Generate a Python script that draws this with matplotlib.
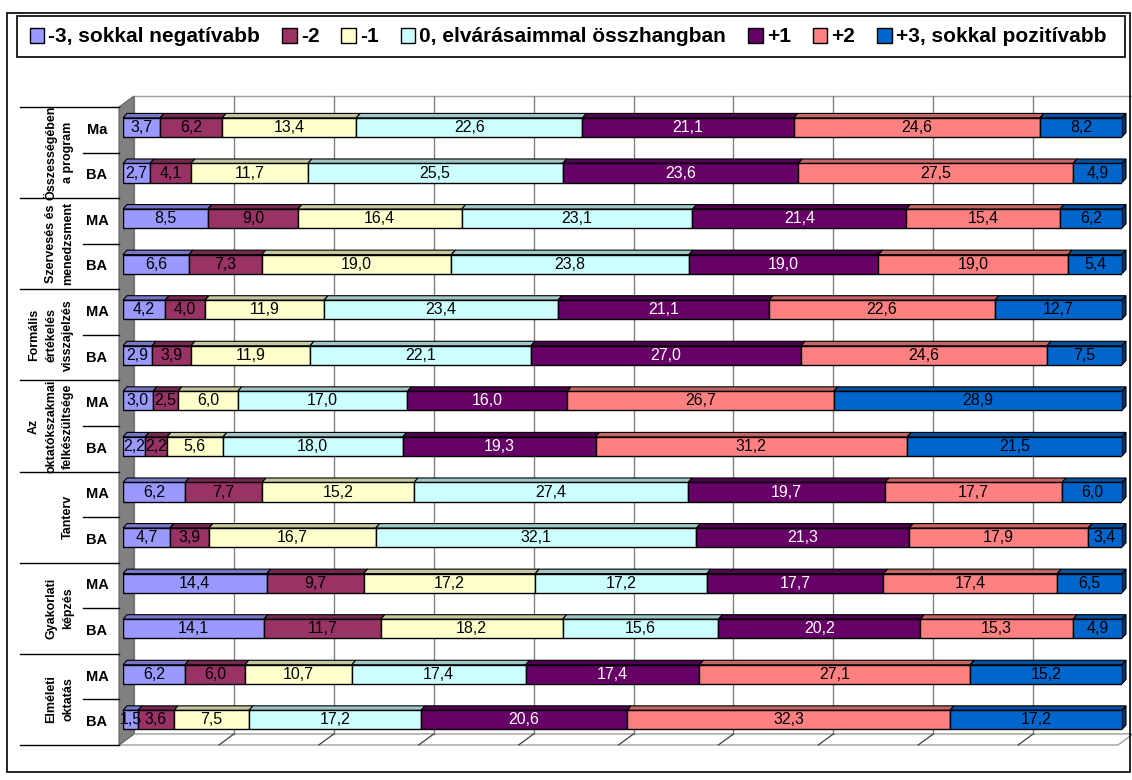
import numpy as np
import matplotlib.pyplot as plt
from matplotlib.patches import Rectangle, Polygon, Patch
from matplotlib.lines import Line2D
import matplotlib.transforms as mtransforms

plt.rcParams['font.family'] = ['Liberation Sans', 'DejaVu Sans']

# adatok
series = ["-3, sokkal negatívabb", "-2", "-1", "0, elvárásaimmal összhangban",
          "+1", "+2", "+3, sokkal pozitívabb"]
colors = ['#9999FF', '#993366', '#FFFFCC', '#CCFFFF', '#660066', '#FF8080', '#0066CC']
label_colors = ['black', 'black', 'black', 'black', 'white', 'black', 'black']

groups = ["Összességében\na program", "Szervesés és\nmenedzsment",
          "Formális\nértékelés\nvisszajelzés", "Az\noktatókszakmai\nfelkészültsége",
          "Tanterv", "Gyakorlati\nképzés", "Elméleti\noktatás"]
levels = ["Ma", "BA", "MA", "BA", "MA", "BA", "MA", "BA",
          "MA", "BA", "MA", "BA", "MA", "BA"]

v_minus3 = [3.7, 2.7, 8.5, 6.6, 4.2, 2.9, 3.0, 2.2, 6.2, 4.7, 14.4, 14.1, 6.2, 1.5]
v_minus2 = [6.2, 4.1, 9.0, 7.3, 4.0, 3.9, 2.5, 2.2, 7.7, 3.9, 9.7, 11.7, 6.0, 3.6]
v_minus1 = [13.4, 11.7, 16.4, 19.0, 11.9, 11.9, 6.0, 5.6, 15.2, 16.7, 17.2, 18.2, 10.7, 7.5]
v_zero = [22.6, 25.5, 23.1, 23.8, 23.4, 22.1, 17.0, 18.0, 27.4, 32.1, 17.2, 15.6, 17.4, 17.2]
v_plus1 = [21.1, 23.6, 21.4, 19.0, 21.1, 27.0, 16.0, 19.3, 19.7, 21.3, 17.7, 20.2, 17.4, 20.6]
v_plus2 = [24.6, 27.5, 15.4, 19.0, 22.6, 24.6, 26.7, 31.2, 17.7, 17.9, 17.4, 15.3, 27.1, 32.3]
v_plus3 = [8.2, 4.9, 6.2, 5.4, 12.7, 7.5, 28.9, 21.5, 6.0, 3.4, 6.5, 4.9, 15.2, 17.2]

W, H = 1132, 780
fig = plt.figure(figsize=(W / 100, H / 100), dpi=100)

# keret és jelmagyarázat doboza
fig.patches.append(Rectangle((7 / W, 1 - 772 / H), 1123 / W, 759 / H, transform=fig.transFigure,
                             fill=False, edgecolor='black', linewidth=1.2))
fig.patches.append(Rectangle((17 / W, 1 - 57 / H), 1108 / W, 41 / H, transform=fig.transFigure,
                             fill=False, edgecolor='black', linewidth=1.2))

ax = fig.add_axes([123 / W, 1 - 742.7 / H, 999 / W, 638 / H])
ax.set_xlim(0, 100)
ax.set_ylim(13.5, -0.5)
ax.axis('off')

ux = 100 / 999
uy = 14 / 638

vals = np.array([v_minus3, v_minus2, v_minus1, v_zero, v_plus1, v_plus2, v_plus3])
pct = vals / vals.sum(axis=0) * 100
lefts = np.vstack([np.zeros(pct.shape[1]), np.cumsum(pct, axis=0)[:-1]])
rows = np.arange(len(levels))

# 3D doboz: hátfal, oldalfal, padló
fx0, fy0, fy1 = -4 * ux, -0.45, 13.55
dxb, dyb = 15 * ux, -11 * uy
ax.add_patch(Rectangle((fx0 + dxb, fy0 + dyb), 100, fy1 - fy0, facecolor='white',
                       edgecolor='#a0a0a0', lw=1, clip_on=False, zorder=0))
for k in range(1, 10):
    gx = fx0 + dxb + 10 * k
    ax.plot([gx, gx], [fy0 + dyb, fy1 + dyb], color='#808080', lw=1, clip_on=False, zorder=0.5)
    ax.plot([fx0 + 10 * k, gx], [fy1, fy1 + dyb], color='#404040', lw=0.9, clip_on=False, zorder=0.5)
ax.add_patch(Polygon([(fx0, fy0), (fx0 + dxb, fy0 + dyb), (fx0 + dxb, fy1 + dyb), (fx0, fy1)],
                     facecolor='#808080', edgecolor='#606060', lw=0.8, clip_on=False, zorder=0.4))
ax.add_patch(Polygon([(fx0, fy1), (fx0 + dxb, fy1 + dyb), (fx0 + dxb + 100, fy1 + dyb), (fx0 + 100, fy1)],
                     facecolor='white', edgecolor='#a0a0a0', lw=1, clip_on=False, zorder=0.3))


def shade(c, f):
    r, g, b = plt.matplotlib.colors.to_rgb(c)
    return (r * f, g * f, b * f)


h = 0.42
bdx, bdy = 4 * ux, 4.5 * uy
for s in range(len(series)):
    ax.barh(rows, pct[s], left=lefts[s], height=h, color=colors[s], edgecolor='black',
            linewidth=1, zorder=2)
    for i in rows:
        l, w = lefts[s][i], pct[s][i]
        top = i - h / 2
        ax.add_patch(Polygon([(l, top), (l + bdx, top - bdy), (l + w + bdx, top - bdy), (l + w, top)],
                             facecolor=shade(colors[s], 0.78), edgecolor='black', lw=0.8,
                             clip_on=False, zorder=1.9))
        if s == len(series) - 1:
            r = l + w
            ax.add_patch(Polygon([(r, top), (r + bdx, top - bdy), (r + bdx, top + h - bdy), (r, top + h)],
                                 facecolor=shade(colors[s], 0.5), edgecolor='black', lw=0.8,
                                 clip_on=False, zorder=1.9))
        ax.text(l + w / 2, i, f"{vals[s][i]:.1f}".replace('.', ','), ha='center', va='center',
                fontsize=11.5, color=label_colors[s], zorder=3, clip_on=False)

# bal oldali kategóriatengely
tr = mtransforms.blended_transform_factory(fig.transFigure, ax.transData)
for g in range(len(groups) + 1):
    ax.add_line(Line2D([20 / W, 119 / W], [fy0 + 2 * g, fy0 + 2 * g], transform=tr,
                       color='black', lw=1, clip_on=False))
for g in range(len(groups)):
    ax.add_line(Line2D([83 / W, 119 / W], [fy0 + 2 * g + 1, fy0 + 2 * g + 1], transform=tr,
                       color='black', lw=1, clip_on=False))
    ax.text(74 / W, fy0 + 2 * g + 1, groups[g], transform=tr, rotation=90, ha='right',
            va='center', multialignment='center', fontsize=9, fontweight='bold',
            linespacing=1.55)
for i in rows:
    ax.text(97 / W, i + 0.05, levels[i], transform=tr, ha='center', va='center',
            fontsize=10.5, fontweight='bold')

handles = [Patch(facecolor=c, edgecolor='black', lw=1) for c in colors]
fig.legend(handles, series, loc='center', bbox_to_anchor=(568 / W, 1 - 37 / H), ncol=7,
           frameon=False, prop={'weight': 'bold', 'size': 15}, handlelength=0.7,
           handleheight=0.7, handletextpad=0.2, columnspacing=1.05)

fig.savefig('out.png', dpi=100)
